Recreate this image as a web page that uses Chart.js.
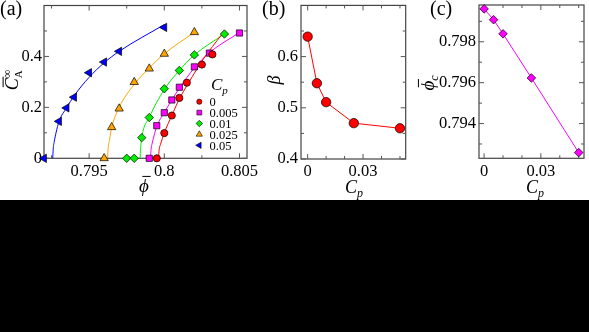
<!DOCTYPE html>
<html>
<head>
<meta charset="utf-8">
<script src="https://cdn.jsdelivr.net/npm/chart.js@4/dist/chart.umd.min.js"></script>
<style>
  html, body { margin: 0; padding: 0; background: #000; }
  #wrap { position: relative; width: 589px; height: 332px; background: #000; overflow: hidden; }
  #top { position: absolute; left: 0; top: 0; width: 589px; height: 200px; background: #fff; }
  canvas { position: absolute; left: 0; top: 0; }
</style>
</head>
<body>
<div id="wrap"><div id="top">
  <canvas id="ca" width="589" height="200"></canvas>
  <canvas id="cb" width="589" height="200"></canvas>
  <canvas id="cc" width="589" height="200"></canvas>
</div></div>
<script>
"use strict";

// ---- data ----
const cpValues = [0, 0.005, 0.01, 0.025, 0.05];
const cpLabels = ["0", "0.005", "0.01", "0.025", "0.05"];

// panel (a): measured points, one pair of arrays per Cp
const phiCp0 = [0.7995, 0.8, 0.8005, 0.801, 0.8015, 0.8025, 0.8032];
const caCp0 = [0, 0.099, 0.168, 0.237, 0.297, 0.368, 0.408];
const phiCp005 = [0.799, 0.7995, 0.8, 0.8005, 0.801, 0.802, 0.803, 0.805];
const caCp005 = [0, 0.128, 0.179, 0.229, 0.279, 0.359, 0.413, 0.492];
const phiCp01 = [0.7975, 0.798, 0.7985, 0.799, 0.8, 0.801, 0.802, 0.804];
const caCp01 = [0, 0, 0.081, 0.160, 0.273, 0.345, 0.406, 0.488];
const phiCp025 = [0.796, 0.7965, 0.797, 0.798, 0.799, 0.8, 0.802];
const caCp025 = [0, 0.122, 0.195, 0.299, 0.352, 0.410, 0.495];
const phiCp05 = [0.792, 0.793, 0.7935, 0.794, 0.795, 0.796, 0.797, 0.8];
const caCp05 = [0, 0.145, 0.198, 0.240, 0.336, 0.378, 0.420, 0.514];

// panel (a): fitted curves
const fitPhiCp0 = [0.79961, 0.79966, 0.79975, 0.8, 0.8005, 0.801, 0.8016, 0.8026, 0.80383];
const fitCaCp0 = [0, 0.035, 0.055, 0.100, 0.168, 0.233, 0.295, 0.390, 0.487];
const fitPhiCp005 = [0.79908, 0.79912, 0.7992, 0.7995, 0.8, 0.8005, 0.801, 0.802, 0.803, 0.80495];
const fitCaCp005 = [0, 0.035, 0.060, 0.125, 0.180, 0.229, 0.275, 0.355, 0.415, 0.492];
const fitPhiCp01 = [0.79839, 0.79842, 0.7985, 0.799, 0.8, 0.801, 0.802, 0.804];
const fitCaCp01 = [0, 0.035, 0.081, 0.160, 0.270, 0.345, 0.406, 0.488];
const fitPhiCp025 = [0.79623, 0.79626, 0.79635, 0.7965, 0.797, 0.798, 0.799, 0.8, 0.802];
const fitCaCp025 = [0, 0.035, 0.070, 0.120, 0.200, 0.290, 0.355, 0.410, 0.495];
const fitPhiCp05 = [0.79258, 0.79261, 0.79268, 0.7928, 0.793, 0.7935, 0.794, 0.795, 0.796, 0.797, 0.8];
const fitCaCp05 = [0, 0.035, 0.065, 0.100, 0.145, 0.198, 0.245, 0.318, 0.375, 0.420, 0.525];

// panel (b) and (c)
const betaValues = [0.639, 0.548, 0.511, 0.470, 0.460];
const phiCValues = [0.79961, 0.79908, 0.79839, 0.79623, 0.79258];

// tick positions
const aXTicks = [0.795, 0.8, 0.805];
const aXMinor = [0.7925, 0.7975, 0.8025];
const aYTicks = [0, 0.2, 0.4];
const aYMinor = [0.1, 0.3, 0.5];
const bXTicks = [0, 0.03];
const bXMinor = [0.01, 0.02, 0.04, 0.05];
const bYTicks = [0.4, 0.5, 0.6];
const bYMinor = [0.45, 0.55, 0.65];
const cXTicks = [0, 0.03];
const cXMinor = [0.01, 0.02, 0.04, 0.05];
const cYTicks = [0.794, 0.796, 0.798];
const cYMinor = [0.793, 0.795, 0.797, 0.799];

// ---- helpers ----
const FONT = '"Liberation Serif", "Times New Roman", serif';
const colors = ["#ff0000", "#ff00ff", "#00ee00", "#ffa500", "#0000ff"];
const styles = ["circle", "rect", "rectRot", "triangle", "triangle"];
const rotations = [0, 0, 0, 0, -90];
const radii = [3.6, 4.4, 4.2, 4.8, 4.8];

function pts(xs, ys) {
  return xs.map((x, i) => ({ x: x, y: ys[i] }));
}

function linScale(min, max, major, isX, pad) {
  return {
    type: "linear", min: min, max: max,
    afterBuildTicks: s => { s.ticks = major.map(v => ({ value: v })); },
    afterFit: s => {
      if (isX) s.height = 30; else s.width = 40;
      s.paddingTop = 0; s.paddingBottom = 0; s.paddingLeft = 0; s.paddingRight = 0;
    },
    ticks: {
      color: "#000", font: { family: FONT, size: 16.5 }, padding: pad,
      maxRotation: 0, autoSkip: false,
      callback: v => String(+Number(v).toFixed(4))
    },
    grid: { display: false, drawTicks: false },
    border: { display: false }
  };
}

function font(p) {
  return (p.i ? "italic " : "") + p.s + "px " + FONT;
}

// draws a row of text pieces; a piece with bar gets an overline
function drawParts(ctx, x, y, parts, rot, center) {
  ctx.save();
  ctx.translate(x, y);
  if (rot) ctx.rotate(-Math.PI / 2);
  let cx = 0, total = 0;
  const pos = [], wid = [];
  parts.forEach(p => {
    ctx.font = font(p);
    const w = ctx.measureText(p.t).width;
    pos.push(cx);
    wid.push(w);
    total = Math.max(total, cx + w);
    if (!p.hold) cx += w;
  });
  const off = center ? -total / 2 : 0;
  ctx.fillStyle = "#000";
  ctx.strokeStyle = "#000";
  ctx.textAlign = "left";
  ctx.textBaseline = "alphabetic";
  parts.forEach((p, i) => {
    ctx.font = font(p);
    ctx.fillText(p.t, off + pos[i], p.dy || 0);
    if (p.bar) {
      const by = -p.s * p.bar;
      const sl = p.i ? p.s * 0.12 : 0;
      ctx.lineWidth = 1;
      ctx.beginPath();
      ctx.moveTo(off + pos[i] + sl + 1, by);
      ctx.lineTo(off + pos[i] + sl + wid[i] - 0.5, by);
      ctx.stroke();
    }
  });
  ctx.restore();
}

function mark(ctx, style, x, y, r, rot, fill) {
  ctx.beginPath();
  if (style === "circle") {
    ctx.arc(x, y, r, 0, 2 * Math.PI);
  } else if (style === "rect") {
    const h = r * Math.SQRT1_2;
    ctx.rect(x - h, y - h, 2 * h, 2 * h);
  } else if (style === "rectRot") {
    ctx.moveTo(x, y - r); ctx.lineTo(x + r, y); ctx.lineTo(x, y + r); ctx.lineTo(x - r, y);
    ctx.closePath();
  } else {
    const a = rot * Math.PI / 180;
    for (let k = 0; k < 3; k++) {
      const t = a + k * 2 * Math.PI / 3;
      const px = x + Math.sin(t) * r, py = y - Math.cos(t) * r;
      if (k) ctx.lineTo(px, py); else ctx.moveTo(px, py);
    }
    ctx.closePath();
  }
  ctx.fillStyle = fill;
  ctx.fill();
  ctx.strokeStyle = "#000";
  ctx.lineWidth = 0.6;
  ctx.stroke();
}

// frame, inward ticks and texts
function deco(cfg) {
  return {
    id: "deco",
    beforeDatasetsDraw(chart) {
      const ctx = chart.ctx, a = chart.chartArea;
      const sx = chart.scales.x, sy = chart.scales.y;
      ctx.save();
      ctx.strokeStyle = "#444";
      ctx.lineWidth = 1.2;
      ctx.strokeRect(a.left, a.top, a.right - a.left, a.bottom - a.top);
      ctx.lineWidth = 1;
      ctx.strokeStyle = "#555";
      const tx = (vals, len) => vals.forEach(v => {
        const p = sx.getPixelForValue(v);
        ctx.beginPath();
        ctx.moveTo(p, a.bottom); ctx.lineTo(p, a.bottom - len);
        ctx.moveTo(p, a.top); ctx.lineTo(p, a.top + len);
        ctx.stroke();
      });
      const ty = (vals, len) => vals.forEach(v => {
        const p = sy.getPixelForValue(v);
        ctx.beginPath();
        ctx.moveTo(a.left, p); ctx.lineTo(a.left + len, p);
        ctx.moveTo(a.right, p); ctx.lineTo(a.right - len, p);
        ctx.stroke();
      });
      tx(cfg.xMajor, 5); tx(cfg.xMinor, 3);
      ty(cfg.yMajor, 5); ty(cfg.yMinor, 3);
      ctx.restore();
    },
    afterDraw(chart) {
      const ctx = chart.ctx;
      cfg.texts.forEach(t => drawParts(ctx, t.x, t.y, t.parts, t.rot, t.center));
      if (cfg.legend) {
        drawParts(ctx, 211, 90, [{ t: "C", s: 17, i: true }, { t: "p", s: 11, i: true, dy: 4 }], false, false);
        cpLabels.forEach((lab, i) => {
          const y = 101.7 + i * 10.9;
          const r = [2.6, 3.4, 3.2, 3.6, 3.6][i];
          mark(ctx, styles[i], 199.3, y, r, rotations[i], colors[i]);
          drawParts(ctx, 209.5, y + 4.2, [{ t: lab, s: 12.5 }], false, false);
        });
      }
    }
  };
}

function baseOptions(pad, scales) {
  return {
    responsive: false,
    animation: false,
    layout: { padding: pad },
    plugins: { legend: { display: false }, tooltip: { enabled: false } },
    scales: scales
  };
}

// ---- panel (a) ----
const markerSets = [
  [phiCp0, caCp0], [phiCp005, caCp005], [phiCp01, caCp01], [phiCp025, caCp025], [phiCp05, caCp05]
];
const fitSets = [
  [fitPhiCp0, fitCaCp0], [fitPhiCp005, fitCaCp005], [fitPhiCp01, fitCaCp01],
  [fitPhiCp025, fitCaCp025], [fitPhiCp05, fitCaCp05]
];

const aDatasets = [];
markerSets.forEach((s, i) => {
  aDatasets.push({
    label: "Cp = " + cpLabels[i],
    data: pts(s[0], s[1]),
    showLine: false,
    pointStyle: styles[i],
    rotation: rotations[i],
    pointRadius: radii[i],
    backgroundColor: colors[i],
    borderColor: "#000",
    borderWidth: 0.7,
    clip: false
  });
});
fitSets.forEach((s, i) => {
  aDatasets.push({
    label: "fit " + cpLabels[i],
    data: pts(s[0], s[1]),
    showLine: true,
    pointRadius: 0,
    borderColor: colors[i],
    borderWidth: 1,
    cubicInterpolationMode: "monotone"
  });
});

new Chart(document.getElementById("ca"), {
  type: "scatter",
  data: { datasets: aDatasets },
  options: baseOptions({ left: 4, top: 3, right: 342, bottom: 11.7 }, {
    x: linScale(0.792, 0.8055, aXTicks, true, 3),
    y: linScale(0, 0.6, aYTicks, false, 2)
  }),
  plugins: [deco({
    xMajor: aXTicks, xMinor: aXMinor, yMajor: aYTicks, yMinor: aYMinor, legend: true,
    texts: [
      { x: 0, y: 15, parts: [{ t: "(a)", s: 20 }] },
      { x: 17.5, y: 80, rot: true, center: true, parts: [
        { t: "C", s: 18, i: true, bar: 0.8 },
        { t: "\u221e", s: 12, dy: -7, hold: true },
        { t: "A", s: 11, dy: 4 }
      ] },
      { x: 144, y: 192, center: true, parts: [{ t: "\u03d5", s: 19, i: true, bar: 0.82 }] }
    ]
  })]
});

// ---- panel (b) ----
new Chart(document.getElementById("cb"), {
  type: "scatter",
  data: { datasets: [{
    label: "beta",
    data: pts(cpValues, betaValues),
    showLine: true,
    borderColor: "#ff0000",
    borderWidth: 1,
    pointStyle: "circle",
    pointRadius: 4.7,
    pointBackgroundColor: "#ff0000",
    pointBorderColor: "#000",
    pointBorderWidth: 0.7,
    clip: false
  }] },
  options: baseOptions({ left: 261, top: 3, right: 183.3, bottom: 11 }, {
    x: linScale(-0.0036, 0.0531, bXTicks, true, 3),
    y: linScale(0.4, 0.7, bYTicks, false, 3)
  }),
  plugins: [deco({
    xMajor: bXTicks, xMinor: bXMinor, yMajor: bYTicks, yMinor: bYMinor,
    texts: [
      { x: 262, y: 15, parts: [{ t: "(b)", s: 20 }] },
      { x: 280, y: 80, rot: true, center: true, parts: [{ t: "\u03b2", s: 18, i: true }] },
      { x: 354, y: 193, center: true, parts: [{ t: "C", s: 18, i: true }, { t: "p", s: 12, i: true, dy: 4 }] }
    ]
  })]
});

// ---- panel (c) ----
new Chart(document.getElementById("cc"), {
  type: "scatter",
  data: { datasets: [{
    label: "phi_c",
    data: pts(cpValues, phiCValues),
    showLine: true,
    borderColor: "#ff00ff",
    borderWidth: 1,
    pointStyle: "rectRot",
    pointRadius: 4.3,
    pointBackgroundColor: "#ff00ff",
    pointBorderColor: "#000",
    pointBorderWidth: 0.7,
    clip: false
  }] },
  options: baseOptions({ left: 439, top: 3, right: 1.7, bottom: 11.7 }, {
    x: linScale(-0.0027, 0.0528, cXTicks, true, 3),
    y: linScale(0.7923, 0.7998, cYTicks, false, 3)
  }),
  plugins: [deco({
    xMajor: cXTicks, xMinor: cXMinor, yMajor: cYTicks, yMinor: cYMinor,
    texts: [
      { x: 430, y: 15, parts: [{ t: "(c)", s: 20 }] },
      { x: 434, y: 83, rot: true, center: true, parts: [
        { t: "\u03d5", s: 19, i: true, bar: 0.82 }, { t: "c", s: 12, i: true, dy: 4 }
      ] },
      { x: 535, y: 193, center: true, parts: [{ t: "C", s: 18, i: true }, { t: "p", s: 12, i: true, dy: 4 }] }
    ]
  })]
});
</script>
</body>
</html>
